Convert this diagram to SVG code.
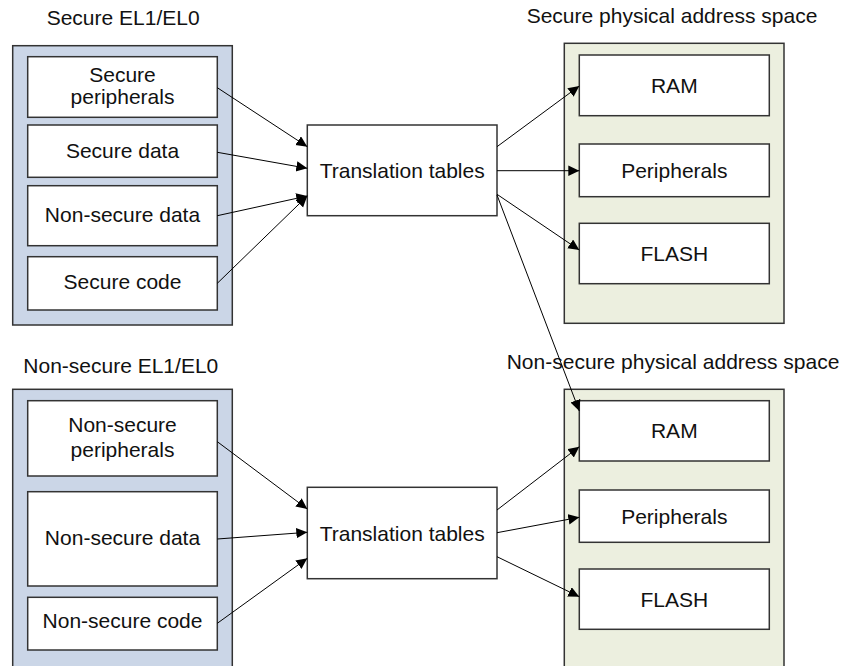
<svg xmlns="http://www.w3.org/2000/svg" width="857" height="666" viewBox="0 0 857 666">
<style>
text{font-family:"Liberation Sans",Arial,sans-serif;font-size:21px;fill:#111}
.c{text-anchor:middle}
.blue{fill:#cbd6e7;stroke:#333;stroke-width:1.5}
.green{fill:#ecefdf;stroke:#333;stroke-width:1.5}
.box{fill:#fff;stroke:#333;stroke-width:1.5}
.ln{stroke:#000;stroke-width:1;fill:none;marker-end:url(#ah)}
</style>
<defs>
<marker id="ah" markerUnits="userSpaceOnUse" markerWidth="12" markerHeight="12" refX="11" refY="5.25" orient="auto">
<path d="M0,0 L11,5.25 L0,10.5 z" fill="#000"/>
</marker>
</defs>
<g id="titles">
<text x="46.7" y="25">Secure EL1/EL0</text>
<text x="526.7" y="23.3">Secure physical address space</text>
<text x="23.3" y="372.7">Non-secure EL1/EL0</text>
<text x="506.7" y="369.3">Non-secure physical address space</text>
</g>
<g id="secure-el">
<rect class="blue" x="12.7" y="45.7" width="219.6" height="279.3"/>
</g>
<g id="secure-pa">
<rect class="green" x="564.3" y="43.3" width="219.7" height="280"/>
</g>
<g id="nonsecure-el">
<rect class="blue" x="12.7" y="389.3" width="219.6" height="290"/>
</g>
<g id="nonsecure-pa">
<rect class="green" x="564.3" y="389.3" width="219.7" height="290"/>
</g>
<g id="s-periph"><rect class="box" x="27.7" y="56.7" width="189.6" height="60.6"/><text class="c" x="122.5" y="81.7">Secure</text><text class="c" x="122.5" y="104.3">peripherals</text></g>
<g id="s-data"><rect class="box" x="27.7" y="125" width="189.6" height="52.3"/><text class="c" x="122.5" y="157.7">Secure data</text></g>
<g id="s-nsdata"><rect class="box" x="27.7" y="185.7" width="189.6" height="60"/><text class="c" x="122.5" y="221.7">Non-secure data</text></g>
<g id="s-code"><rect class="box" x="27.7" y="256.7" width="189.6" height="53.3"/><text class="c" x="122.5" y="289.3">Secure code</text></g>
<g id="tt1"><rect class="box" x="307.3" y="125" width="189.7" height="90.7"/><text class="c" x="402.2" y="177.8">Translation tables</text></g>
<g id="s-ram"><rect class="box" x="579.3" y="55" width="190" height="60.7"/><text class="c" x="674.3" y="92.6">RAM</text></g>
<g id="s-periphs"><rect class="box" x="579.3" y="144" width="190" height="52.7"/><text class="c" x="674.3" y="177.8">Peripherals</text></g>
<g id="s-flash"><rect class="box" x="579.3" y="223.3" width="190" height="60.4"/><text class="c" x="674.3" y="261">FLASH</text></g>
<g id="ns-periph"><rect class="box" x="27.7" y="400.7" width="189.6" height="75.3"/><text class="c" x="122.5" y="431.5">Non-secure</text><text class="c" x="122.5" y="456.5">peripherals</text></g>
<g id="ns-data"><rect class="box" x="27.7" y="491.7" width="189.6" height="94.3"/><text class="c" x="122.5" y="545">Non-secure data</text></g>
<g id="ns-code"><rect class="box" x="27.7" y="597.3" width="189.6" height="52.7"/><text class="c" x="122.5" y="628.3">Non-secure code</text></g>
<g id="tt2"><rect class="box" x="307.3" y="487.3" width="189.7" height="91.4"/><text class="c" x="402.2" y="540.5">Translation tables</text></g>
<g id="ns-ram"><rect class="box" x="579.3" y="400.7" width="190" height="60.3"/><text class="c" x="674.3" y="438.3">RAM</text></g>
<g id="ns-periphs"><rect class="box" x="579.3" y="490" width="190" height="52.3"/><text class="c" x="674.3" y="523.5">Peripherals</text></g>
<g id="ns-flash"><rect class="box" x="579.3" y="569" width="190" height="60.3"/><text class="c" x="674.3" y="606.5">FLASH</text></g>
<g id="connectors">
<line class="ln" x1="217.3" y1="87.7" x2="307.3" y2="146.7"/>
<line class="ln" x1="217.3" y1="152.3" x2="307.3" y2="168.3"/>
<line class="ln" x1="217.3" y1="215.7" x2="307.3" y2="196"/>
<line class="ln" x1="217.3" y1="283.3" x2="307.3" y2="196"/>
<line class="ln" x1="497" y1="146.7" x2="579.3" y2="86"/>
<line class="ln" x1="497" y1="170.7" x2="579.3" y2="170.7"/>
<line class="ln" x1="497" y1="194.3" x2="579.3" y2="250"/>
<line class="ln" x1="497" y1="195" x2="579.3" y2="411"/>
<line class="ln" x1="217.3" y1="441.7" x2="307.3" y2="509"/>
<line class="ln" x1="217.3" y1="539" x2="307.3" y2="532.3"/>
<line class="ln" x1="217.3" y1="623.3" x2="307.3" y2="558.3"/>
<line class="ln" x1="497" y1="510" x2="579.3" y2="446.7"/>
<line class="ln" x1="497" y1="532.7" x2="579.3" y2="517.3"/>
<line class="ln" x1="497" y1="556.7" x2="579.3" y2="596.7"/>
</g>
</svg>
